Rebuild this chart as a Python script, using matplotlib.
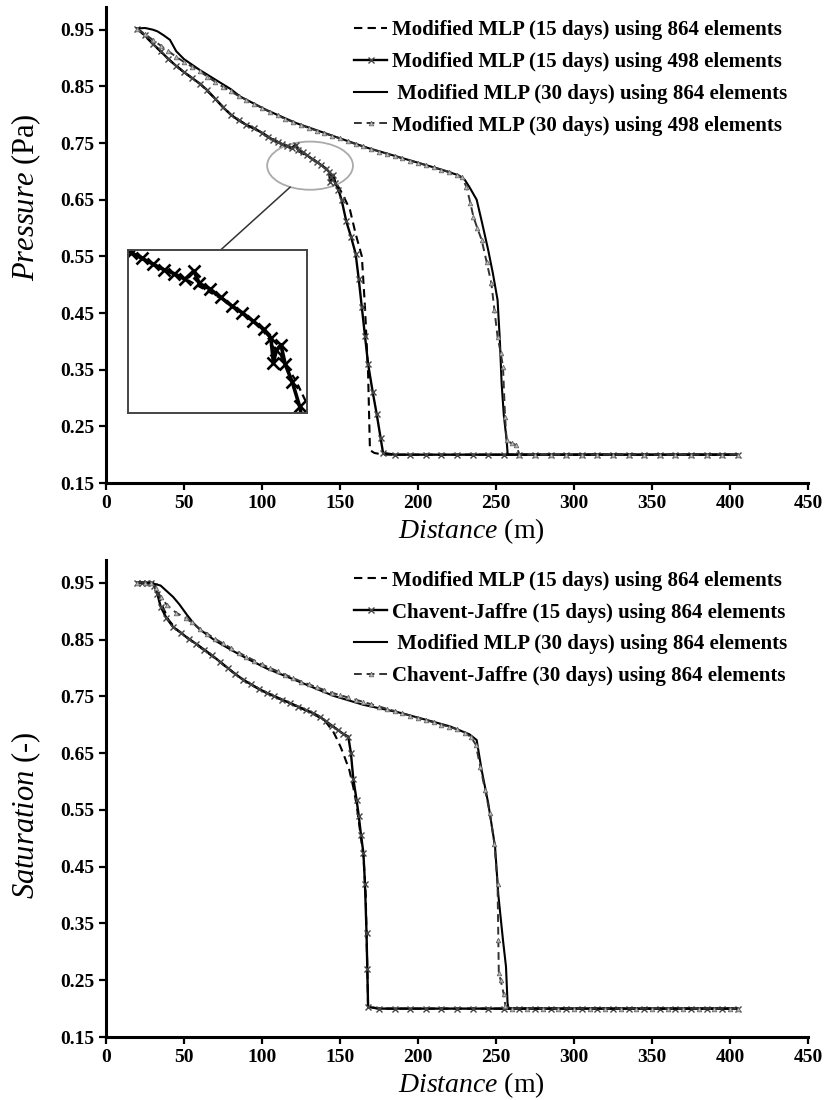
import matplotlib
matplotlib.use("Agg")
import matplotlib.pyplot as plt
from matplotlib.patches import Ellipse

plt.rcParams['font.family'] = ['Liberation Serif', 'DejaVu Serif']
plt.rcParams['mathtext.fontset'] = 'custom'
plt.rcParams['mathtext.rm'] = 'Liberation Serif'
plt.rcParams['mathtext.it'] = 'Liberation Serif:italic'

# ---------------- Data: top panel (Pressure) ----------------
top_labels = ["Modified MLP (15 days) using 864 elements",
              "Modified MLP (15 days) using 498 elements",
              " Modified MLP (30 days) using 864 elements",
              "Modified MLP (30 days) using 498 elements"]

p15_864_x = [20, 30, 40, 50, 60, 70, 80, 90, 100, 110, 120, 130, 140, 146, 150, 153, 156.4, 160, 164,
             166, 168, 169.2, 172, 178, 250, 405]
p15_864_y = [0.952, 0.925, 0.898, 0.875, 0.855, 0.828, 0.800, 0.782, 0.768, 0.752, 0.740, 0.726, 0.707,
             0.685, 0.668, 0.652, 0.632, 0.590, 0.550, 0.461, 0.344, 0.208, 0.203, 0.200, 0.200, 0.200]

p15_498_x = [20, 25, 30, 35, 40, 45, 50, 55, 60, 65, 70, 75, 80, 85, 90, 95, 100, 104, 107, 110, 113,
             116, 119, 121.5, 123, 126, 129, 132, 135, 138, 141, 143, 143.7, 144.5, 145.8, 147, 149, 151,
             154, 157, 160, 162, 164, 166, 168, 171, 173.5, 176, 177.6, 185, 195, 205, 215, 225, 235,
             245, 255, 265, 275, 285, 295, 305, 315, 325, 335, 345, 355, 365, 375, 385, 395, 405]
p15_498_y = [0.952, 0.940, 0.925, 0.912, 0.898, 0.886, 0.875, 0.865, 0.855, 0.843, 0.828, 0.813, 0.800,
             0.790, 0.782, 0.776, 0.768, 0.760, 0.756, 0.752, 0.748, 0.745, 0.741, 0.747, 0.738, 0.734,
             0.728, 0.722, 0.717, 0.711, 0.705, 0.699, 0.681, 0.690, 0.694, 0.680, 0.667, 0.650, 0.612,
             0.585, 0.555, 0.510, 0.460, 0.410, 0.360, 0.310, 0.272, 0.230, 0.203, 0.200, 0.200, 0.200,
             0.200, 0.200, 0.200, 0.200, 0.200, 0.200, 0.200, 0.200, 0.200, 0.200, 0.200, 0.200, 0.200,
             0.200, 0.200, 0.200, 0.200, 0.200, 0.200, 0.200]

p30_864_x = [20, 25, 30, 33, 37, 41, 45, 50, 60, 70, 80, 86, 103, 122, 146, 167, 199, 215, 226, 230,
             233, 237.6, 241, 245, 248, 251, 252.5, 253.6, 255, 256.8, 257.5, 300, 405]
p30_864_y = [0.952, 0.953, 0.950, 0.947, 0.940, 0.932, 0.912, 0.898, 0.879, 0.862, 0.845, 0.832, 0.808,
             0.785, 0.762, 0.742, 0.716, 0.703, 0.693, 0.685, 0.672, 0.650, 0.610, 0.561, 0.520, 0.473,
             0.400, 0.326, 0.270, 0.226, 0.200, 0.200, 0.200]

p30_498_x = [20, 25, 30, 35, 40, 45, 50, 55, 60, 65, 70, 75, 80, 85, 90, 95, 100, 105, 110, 115, 120,
             125, 130, 135, 140, 145, 150, 155, 160, 165, 170, 175, 180, 185, 190, 195, 200, 205, 210,
             215, 220, 225, 228, 231, 233.5, 235.5, 238, 240.8, 244, 247, 249, 251, 253, 254.5, 255.8,
             256.8, 260, 263, 265, 275, 285, 295, 305, 315, 325, 335, 345, 355, 365, 375, 385, 395, 405]
p30_498_y = [0.952, 0.942, 0.932, 0.922, 0.912, 0.902, 0.893, 0.885, 0.877, 0.867, 0.858, 0.849, 0.841,
             0.833, 0.826, 0.819, 0.812, 0.805, 0.799, 0.792, 0.787, 0.782, 0.776, 0.772, 0.767, 0.763,
             0.758, 0.753, 0.748, 0.744, 0.739, 0.735, 0.731, 0.727, 0.723, 0.719, 0.715, 0.711, 0.707,
             0.703, 0.699, 0.694, 0.690, 0.673, 0.645, 0.620, 0.600, 0.579, 0.540, 0.503, 0.455, 0.408,
             0.380, 0.355, 0.267, 0.226, 0.220, 0.217, 0.200, 0.200, 0.200, 0.200, 0.200, 0.200, 0.200,
             0.200, 0.200, 0.200, 0.200, 0.200, 0.200, 0.200, 0.200]

# ---------------- Data: bottom panel (Saturation) ----------------
bot_labels = ["Modified MLP (15 days) using 864 elements",
              "Chavent-Jaffre (15 days) using 864 elements",
              " Modified MLP (30 days) using 864 elements",
              "Chavent-Jaffre (30 days) using 864 elements"]

s15_mlp_x = [20, 30, 33, 36, 40, 45, 50, 60, 70, 80, 90, 100, 110, 120, 130, 140, 145.6, 148, 150.5,
             152.8, 156, 158.5, 160.6, 163, 165, 166.5, 167, 167.7, 168, 175, 250, 405]
s15_mlp_y = [0.950, 0.950, 0.935, 0.910, 0.885, 0.868, 0.858, 0.837, 0.817, 0.795, 0.775, 0.760, 0.747,
             0.735, 0.723, 0.708, 0.688, 0.675, 0.660, 0.644, 0.620, 0.590, 0.560, 0.510, 0.470, 0.400,
             0.330, 0.250, 0.203, 0.200, 0.200, 0.200]

s15_cj_x = [20, 23, 26, 29, 31, 33, 35, 38.7, 43, 48, 53, 58, 63, 68, 73, 78, 83, 88, 93, 98, 103, 108,
            113, 118, 123, 128, 133, 137, 141, 145, 149, 152, 155.3, 157, 158.5, 160.6, 162, 163.5, 165,
            166, 167, 167.5, 168, 175, 185, 195, 205, 215, 225, 235, 245, 255, 265, 275, 285, 295, 305,
            315, 325, 335, 345, 355, 365, 375, 385, 395, 405]
s15_cj_y = [0.950, 0.950, 0.950, 0.950, 0.945, 0.930, 0.908, 0.888, 0.872, 0.862, 0.851, 0.842, 0.832,
            0.822, 0.811, 0.800, 0.789, 0.779, 0.771, 0.763, 0.756, 0.750, 0.744, 0.738, 0.732, 0.726,
            0.720, 0.714, 0.706, 0.698, 0.690, 0.684, 0.679, 0.650, 0.605, 0.568, 0.540, 0.505, 0.474,
            0.420, 0.333, 0.270, 0.203, 0.200, 0.200, 0.200, 0.200, 0.200, 0.200, 0.200, 0.200, 0.200,
            0.200, 0.200, 0.200, 0.200, 0.200, 0.200, 0.200, 0.200, 0.200, 0.200, 0.200, 0.200, 0.200,
            0.200, 0.200]

s30_mlp_x = [20, 28, 31, 35, 39, 43, 47, 52, 56, 60, 70, 80, 90, 103, 120, 145.6, 165, 188.5, 210,
             220.5, 233, 237.6, 240.8, 245, 249.4, 251.5, 254.5, 256.4, 257.4, 258, 300, 405]
s30_mlp_y = [0.950, 0.950, 0.948, 0.945, 0.935, 0.925, 0.912, 0.893, 0.879, 0.868, 0.848, 0.832, 0.817,
             0.799, 0.780, 0.751, 0.735, 0.721, 0.705, 0.697, 0.683, 0.673, 0.620, 0.562, 0.485, 0.400,
             0.320, 0.274, 0.210, 0.200, 0.200, 0.200]

s30_cj_x = [20, 25, 29, 32, 35, 39, 45, 51.6, 55, 60, 65, 70, 75, 80, 85, 90, 95, 100, 105, 110, 115,
            120, 125, 130, 135, 140, 145, 150, 155, 160, 165, 170, 175, 180, 185, 190, 195, 200, 205,
            210, 215, 220, 225, 230, 234, 237, 240, 243, 246, 249, 251, 251.5, 251.8, 253, 255, 256,
            260, 270, 280, 290, 300, 310, 320, 330, 340, 350, 360, 370, 380, 390, 400, 405]
s30_cj_y = [0.950, 0.950, 0.950, 0.940, 0.925, 0.911, 0.897, 0.887, 0.880, 0.869, 0.860, 0.851, 0.843,
            0.835, 0.827, 0.820, 0.813, 0.806, 0.800, 0.794, 0.788, 0.782, 0.776, 0.771, 0.766, 0.761,
            0.756, 0.752, 0.748, 0.744, 0.740, 0.736, 0.732, 0.728, 0.724, 0.720, 0.716, 0.712, 0.708,
            0.704, 0.700, 0.696, 0.692, 0.686, 0.678, 0.665, 0.625, 0.585, 0.545, 0.490, 0.420, 0.320,
            0.263, 0.250, 0.225, 0.205, 0.200, 0.200, 0.200, 0.200, 0.200, 0.200, 0.200, 0.200, 0.200,
            0.200, 0.200, 0.200, 0.200, 0.200, 0.200, 0.200]

x_ticks = [0, 50, 100, 150, 200, 250, 300, 350, 400, 450]
y_ticks = [0.15, 0.25, 0.35, 0.45, 0.55, 0.65, 0.75, 0.85, 0.95]

# ---------------- Styles ----------------
st_dash = dict(color='black', lw=1.5, ls=(0, (4, 2.5)))
st_x = dict(color='black', lw=1.7, marker='x', ms=3.8, mec='#444', mew=1.0)
st_solid = dict(color='black', lw=1.5, ls='-')
st_tri = dict(color='#333', lw=1.4, ls=(0, (4, 2.5)), marker='^', ms=3.3, mfc='#bbb', mec='#666', mew=0.6)

W, H = 838, 1100
fig = plt.figure(figsize=(W / 100, H / 100), dpi=100)

def setup(ax):
    ax.set_xlim(0, 450)
    ax.set_ylim(0.15, 0.99)
    ax.set_xticks(x_ticks)
    ax.set_yticks(y_ticks)
    ax.set_yticklabels([f"{v:.2f}" for v in y_ticks])
    for s in ['top', 'right']:
        ax.spines[s].set_visible(False)
    for s in ['left', 'bottom']:
        ax.spines[s].set_linewidth(2.2)
    ax.tick_params(axis='both', which='major', labelsize=14, width=1.6, length=5, direction='out')
    for lab in ax.get_xticklabels() + ax.get_yticklabels():
        lab.set_fontweight('bold')
    ax.set_xlabel(r'$\mathit{Distance}$ (m)', fontsize=20)
    ax.xaxis.set_label_coords(0.52, -0.07)

leg_kw = dict(loc='upper right', frameon=False, handlelength=1.6, handletextpad=0.25,
              labelspacing=0.57, prop={'weight': 'bold', 'size': 15}, borderaxespad=0)

ax1 = fig.add_axes([106 / W, 1 - 483 / H, 702 / W, 476 / H])
setup(ax1)
ax1.set_ylabel(r'$\mathit{Pressure}$ (Pa)', fontsize=22)
ax1.yaxis.set_label_coords(-0.09, 0.6)
l1, = ax1.plot(p15_864_x, p15_864_y, **st_dash)
l2, = ax1.plot(p15_498_x, p15_498_y, **st_x)
l3, = ax1.plot(p30_864_x, p30_864_y, **st_solid)
l4, = ax1.plot(p30_498_x, p30_498_y, **st_tri)
ax1.legend([l1, l2, l3, l4], top_labels, bbox_to_anchor=(0.983, 0.99), **leg_kw)

# zoom ellipse and connector
ax1.add_patch(Ellipse((130.8, 0.71), 55, 0.085, fill=False, edgecolor='#aaaaaa', lw=1.3))
ax1.plot([118, 74.2], [0.672, 0.563], color='#333333', lw=1.1)

# inset
axi = fig.add_axes([127.7 / W, 1 - 413 / H, 179 / W, 163 / H])
axi.plot(p15_864_x, p15_864_y, color='black', lw=1.6, ls=(0, (3, 2)))
axi.plot(p15_498_x, p15_498_y, color='black', lw=2.6, marker='x', ms=8, mew=1.9)
axi.set_xlim(103, 153)
axi.set_ylim(0.645, 0.762)
axi.set_xticks([])
axi.set_yticks([])
for s in axi.spines.values():
    s.set_linewidth(1.4)
    s.set_edgecolor('#444444')

ax2 = fig.add_axes([106 / W, 1 - 1037 / H, 702 / W, 477 / H])
setup(ax2)
ax2.set_ylabel(r'$\mathit{Saturation}$ (-)', fontsize=22)
ax2.yaxis.set_label_coords(-0.09, 0.465)
m1, = ax2.plot(s15_mlp_x, s15_mlp_y, **st_dash)
m2, = ax2.plot(s15_cj_x, s15_cj_y, **st_x)
m3, = ax2.plot(s30_mlp_x, s30_mlp_y, **st_solid)
m4, = ax2.plot(s30_cj_x, s30_cj_y, **st_tri)
ax2.legend([m1, m2, m3, m4], bot_labels, bbox_to_anchor=(0.983, 0.995), **leg_kw)

fig.savefig('out.png', dpi=100, facecolor='white')
